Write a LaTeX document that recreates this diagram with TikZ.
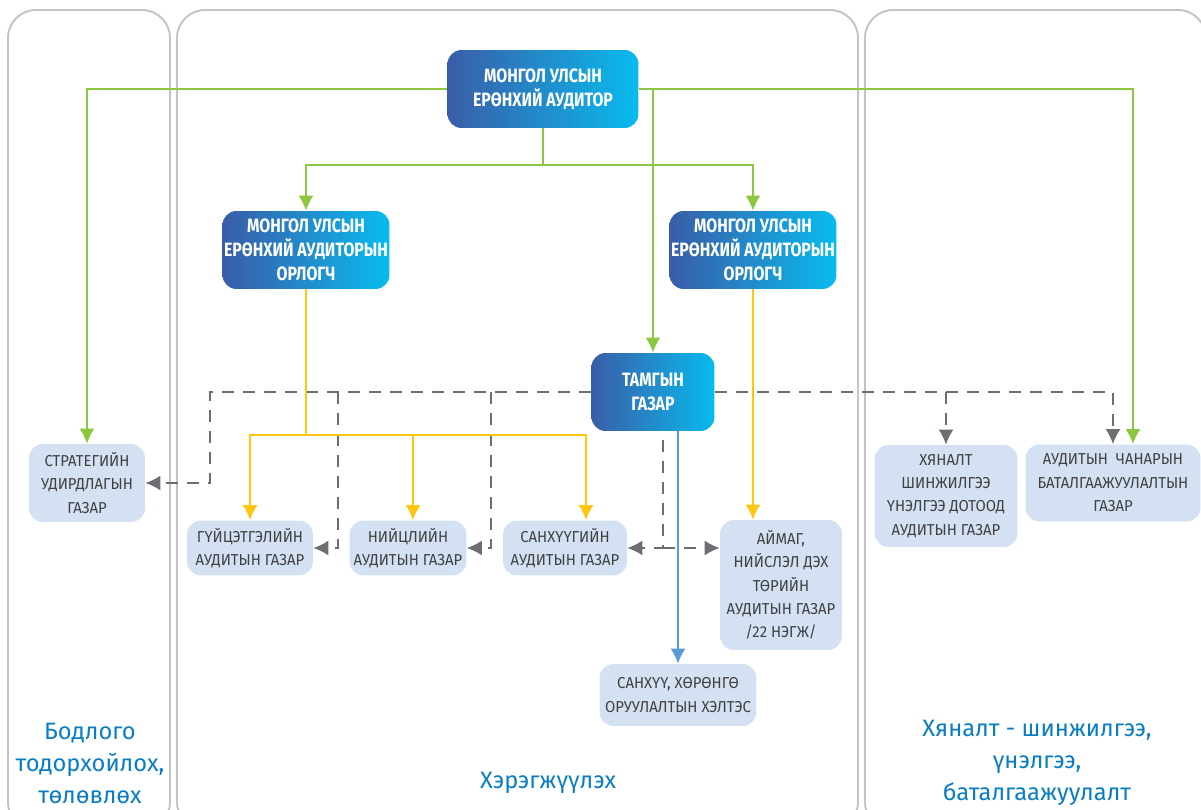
\documentclass[tikz,border=0pt]{standalone}
\usepackage{fontspec}
\setmainfont{Fira Sans}[FakeStretch=0.94, BoldFeatures={FakeStretch=0.82}]
\newfontfamily\wideface{Fira Sans}
\usepackage{tikz}
\usetikzlibrary{calc, arrows.meta}
\definecolor{grline}{HTML}{8DC63F}
\definecolor{yeline}{HTML}{FDC70F}
\definecolor{blline}{HTML}{5B9BD5}
\definecolor{dashgray}{HTML}{6D6E71}
\definecolor{boxfill}{HTML}{D3E1F3}
\definecolor{txtgray}{HTML}{404041}
\definecolor{panelgray}{HTML}{C3C3C5}
\definecolor{labelblue}{HTML}{0A7DC2}
\definecolor{gradL}{HTML}{3A5DA8}
\definecolor{gradR}{HTML}{08BBEE}
\tikzstyle{head}=[rounded corners=0.28cm, left color=gradL, right color=gradR, text=white, font=\bfseries\fontsize{11}{13.6}\selectfont, align=center, inner sep=0pt]
\tikzstyle{unit}=[rounded corners=0.28cm, fill=boxfill, text=txtgray, font=\fontsize{9}{13.3}\selectfont, align=center, inner sep=0pt]
\tikzstyle{part}=[text=labelblue, font=\wideface\fontsize{13.5}{18.2}\selectfont, align=center]
\tikzstyle{panel}=[draw=panelgray, line width=1.1pt, rounded corners=0.56cm]
\tikzstyle{gline}=[draw=grline, line width=1.1pt]
\tikzstyle{yline}=[draw=yeline, line width=1.1pt]
\tikzstyle{bline}=[draw=blline, line width=1.1pt]
\tikzstyle{dline}=[draw=dashgray, line width=1.1pt, dash pattern=on 0.24cm off 0.18cm]
\begin{document}
\begin{tikzpicture}[x=0.02cm, y=-0.02cm, >={Latex[length=8.5pt,width=8.5pt]}]
  \useasboundingbox (0,0) rectangle (1201,810);
  \clip (0,0) rectangle (1201,810);
  % panels
  \draw[panel] (8,10) rectangle (170,830);
  \draw[panel] (177,10) rectangle (858,830);
  \draw[panel] (865,10) rectangle (1206,830);
  % heads
  \node[head, minimum width=3.82cm, minimum height=1.56cm] (chief) at (543,89) {МОНГОЛ УЛСЫН\\ЕРӨНХИЙ АУДИТОР};
  \node[head, minimum width=3.34cm, minimum height=1.56cm] (depl) at (306,250) {МОНГОЛ УЛСЫН\\ЕРӨНХИЙ АУДИТОРЫН\\ОРЛОГЧ};
  \node[head, minimum width=3.34cm, minimum height=1.56cm] (depr) at (753,250) {МОНГОЛ УЛСЫН\\ЕРӨНХИЙ АУДИТОРЫН\\ОРЛОГЧ};
  \node[head, minimum width=2.46cm, minimum height=1.56cm] (office) at (653,392) {ТАМГЫН\\ГАЗАР};
  % units
  \node[unit, minimum width=2.32cm, minimum height=1.56cm] (strat) at (87,483) {СТРАТЕГИЙН\\УДИРДЛАГЫН\\ГАЗАР};
  \node[unit, minimum width=2.52cm, minimum height=1.1cm] (perf) at (250,548) {ГҮЙЦЭТГЭЛИЙН\\АУДИТЫН ГАЗАР};
  \node[unit, minimum width=2.34cm, minimum height=1.1cm] (comp) at (408,548) {НИЙЦЛИЙН\\АУДИТЫН ГАЗАР};
  \node[unit, minimum width=2.48cm, minimum height=1.1cm] (fin) at (565,548) {САНХҮҮГИЙН\\АУДИТЫН ГАЗАР};
  \node[unit, minimum width=2.44cm, minimum height=2.6cm] (prov) at (781,585) {АЙМАГ,\\НИЙСЛЭЛ ДЭХ\\ТӨРИЙН\\АУДИТЫН ГАЗАР\\/22 НЭГЖ/};
  \node[unit, minimum width=3.14cm, minimum height=1.24cm] (invest) at (678,695) {САНХҮҮ, ХӨРӨНГӨ\\ОРУУЛАЛТЫН ХЭЛТЭС};
  \node[unit, minimum width=2.86cm, minimum height=2.04cm] (monit) at (946,496) {ХЯНАЛТ\\ШИНЖИЛГЭЭ\\ҮНЭЛГЭЭ ДОТООД\\АУДИТЫН ГАЗАР};
  \node[unit, minimum width=3.5cm, minimum height=1.54cm] (quality) at (1113,483) {АУДИТЫН\ \ ЧАНАРЫН\\БАТАЛГААЖУУЛАЛТЫН\\ГАЗАР};
  % panel labels
  \node[part] (plan) at (90,763) {Бодлого\\тодорхойлох,\\төлөвлөх};
  \node[part] (impl) at (548,783) {Хэрэгжүүлэх};
  \node[part] (check) at (1037,763) {Хяналт - шинжилгээ,\\үнэлгээ,\\баталгаажуулалт};
  % dashed links
  \coordinate (dperf) at ($(perf.east)+(25,0)$);
  \coordinate (dcomp) at ($(comp.east)+(24,0)$);
  \coordinate (dfin) at ($(fin.east)+(36,0)$);
  \draw[dline,->] (office.west) -| ($(strat.east)+(65,0)$) -- (strat.east);
  \draw[dline,->] (dperf |- office.west) |- (perf.east);
  \draw[dline,->] (dcomp |- office.west) |- (comp.east);
  \draw[dline,->] ($(dfin |- office.south)+(0,9)$) |- (fin.east);
  \draw[dline,->] (dfin |- fin.east) -- (prov.west |- fin.east);
  \draw[dline,->] (office.east) -| (quality.north);
  \draw[dline,->] (monit.north |- office.east) -- (monit.north);
  % green links
  \draw[gline,->] (chief.west) -| (strat.north);
  \draw[gline,->] (chief.east) -| ($(quality.north)+(20,0)$);
  \draw[gline,->] (chief.east -| office.north) -- (office.north);
  \draw[gline] (chief.south) -- ++(0,37) coordinate (gfork);
  \draw[gline,->] (gfork) -| (depl.north);
  \draw[gline,->] (gfork) -| (depr.north);
  % yellow links
  \draw[yline] (depl.south) -- ++(0,146) coordinate (yfork);
  \draw[yline,->] (yfork) -| (perf.north);
  \draw[yline,->] (yfork) -| ($(comp.north)+(5,0)$);
  \draw[yline,->] (yfork) -| ($(fin.north)+(21,0)$);
  \draw[yline,->] (depr.south) -- (depr.south |- prov.north);
  % blue link
  \draw[bline,->] (office.south -| invest.north) -- (invest.north);
\end{tikzpicture}
\end{document}
